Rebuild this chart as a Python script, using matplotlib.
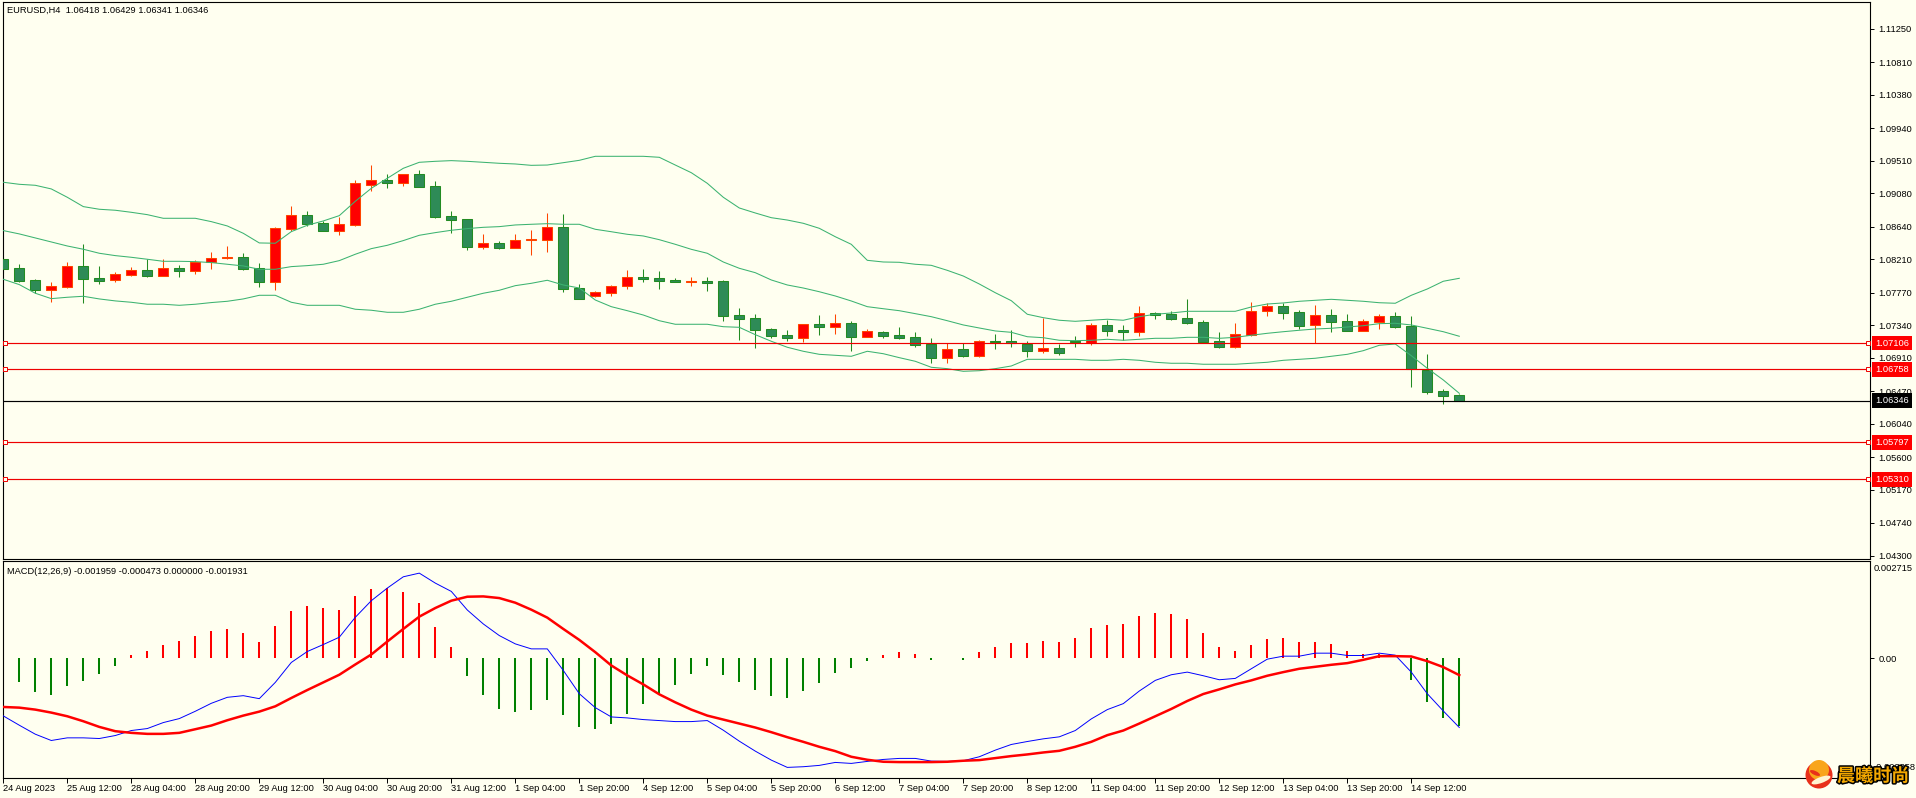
import matplotlib
matplotlib.use('Agg')
import matplotlib.pyplot as plt
import matplotlib.patheffects as pe
from matplotlib.patches import Circle, Ellipse

plt.rcParams['font.family'] = ['Liberation Sans', 'DejaVu Sans']

# EURUSD H4 candles
opens = [
    1.08211, 1.08092, 1.07934, 1.07811, 1.07850, 1.08118, 1.07960, 1.07943, 1.08009, 1.08066,
    1.07995, 1.08092, 1.08061, 1.08180, 1.08228, 1.08237, 1.08092, 1.07916, 1.08615, 1.08791,
    1.08685, 1.08589, 1.08668, 1.09195, 1.09252, 1.09221, 1.09331, 1.09173, 1.08777, 1.08738,
    1.08378, 1.08422, 1.08364, 1.08460, 1.08469, 1.08632, 1.07828, 1.07731, 1.07771, 1.07863,
    1.07973, 1.07960, 1.07938, 1.07907, 1.07920, 1.07920, 1.07472, 1.07432, 1.07288, 1.07208,
    1.07178, 1.07353, 1.07323, 1.07367, 1.07191, 1.07248, 1.07208, 1.07182, 1.07090, 1.06914,
    1.07024, 1.06940, 1.07134, 1.07130, 1.07099, 1.07007, 1.07038, 1.07134, 1.07104, 1.07341,
    1.07275, 1.07257, 1.07499, 1.07486, 1.07433, 1.07380, 1.07130, 1.07060, 1.07218, 1.07525,
    1.07591, 1.07512, 1.07341, 1.07473, 1.07393, 1.07270, 1.07389, 1.07459, 1.07328, 1.06756,
    1.06471, 1.06418]
highs = [
    1.08241, 1.08149, 1.07947, 1.07908, 1.08176, 1.08413, 1.08123, 1.08039, 1.08110, 1.08211,
    1.08211, 1.08136, 1.08202, 1.08307, 1.08386, 1.08290, 1.08158, 1.08637, 1.08914, 1.08848,
    1.08720, 1.08769, 1.09252, 1.09454, 1.09335, 1.09331, 1.09388, 1.09243, 1.08848, 1.08738,
    1.08545, 1.08452, 1.08544, 1.08597, 1.08821, 1.08807, 1.07885, 1.07793, 1.07872, 1.08069,
    1.08083, 1.08056, 1.07964, 1.07977, 1.07977, 1.07938, 1.07569, 1.07490, 1.07305, 1.07279,
    1.07353, 1.07476, 1.07490, 1.07397, 1.07292, 1.07266, 1.07318, 1.07252, 1.07173, 1.07103,
    1.07103, 1.07147, 1.07226, 1.07279, 1.07134, 1.07442, 1.07095, 1.07200, 1.07372, 1.07411,
    1.07345, 1.07596, 1.07516, 1.07530, 1.07688, 1.07411, 1.07253, 1.07372, 1.07648, 1.07635,
    1.07635, 1.07543, 1.07609, 1.07556, 1.07490, 1.07424, 1.07490, 1.07516, 1.07464, 1.06963,
    1.06502, 1.06429]
lows = [
    1.08035, 1.07912, 1.07763, 1.07648, 1.07833, 1.07640, 1.07886, 1.07912, 1.07991, 1.07978,
    1.07991, 1.07978, 1.08017, 1.08088, 1.08220, 1.08070, 1.07846, 1.07807, 1.08580, 1.08654,
    1.08589, 1.08531, 1.08650, 1.09111, 1.09151, 1.09177, 1.09168, 1.08755, 1.08558, 1.08334,
    1.08347, 1.08347, 1.08364, 1.08267, 1.08307, 1.07780, 1.07692, 1.07709, 1.07727, 1.07819,
    1.07911, 1.07819, 1.07911, 1.07859, 1.07793, 1.07397, 1.07147, 1.07042, 1.07173, 1.07134,
    1.07121, 1.07213, 1.07226, 1.07002, 1.07187, 1.07173, 1.07160, 1.07055, 1.06844, 1.06844,
    1.06923, 1.06923, 1.07028, 1.07055, 1.06923, 1.06976, 1.06950, 1.07055, 1.07082, 1.07200,
    1.07147, 1.07200, 1.07424, 1.07411, 1.07358, 1.07104, 1.07042, 1.07042, 1.07205, 1.07464,
    1.07424, 1.07292, 1.07104, 1.07253, 1.07266, 1.07266, 1.07292, 1.07306, 1.06528, 1.06436,
    1.06304, 1.06341]
closes = [
    1.08088, 1.07930, 1.07811, 1.07855, 1.08118, 1.07956, 1.07930, 1.08013, 1.08066, 1.07995,
    1.08092, 1.08061, 1.08180, 1.08224, 1.08237, 1.08088, 1.07916, 1.08619, 1.08791, 1.08681,
    1.08589, 1.08672, 1.09212, 1.09252, 1.09221, 1.09331, 1.09168, 1.08773, 1.08733, 1.08378,
    1.08422, 1.08360, 1.08460, 1.08474, 1.08632, 1.07823, 1.07692, 1.07775, 1.07854, 1.07973,
    1.07955, 1.07929, 1.07916, 1.07920, 1.07903, 1.07468, 1.07428, 1.07283, 1.07204, 1.07178,
    1.07353, 1.07323, 1.07367, 1.07191, 1.07261, 1.07204, 1.07178, 1.07085, 1.06914, 1.07024,
    1.06940, 1.07129, 1.07121, 1.07108, 1.07007, 1.07038, 1.06981, 1.07126, 1.07341, 1.07270,
    1.07257, 1.07499, 1.07481, 1.07429, 1.07376, 1.07126, 1.07060, 1.07222, 1.07525, 1.07591,
    1.07508, 1.07336, 1.07473, 1.07389, 1.07270, 1.07393, 1.07459, 1.07323, 1.06761, 1.06467,
    1.06414, 1.06346]

# Bollinger bands
bb_upper = [
    1.09226, 1.09199, 1.09186, 1.09138, 1.09028, 1.08905, 1.08870, 1.08857, 1.08830, 1.08799,
    1.08751, 1.08751, 1.08751, 1.08707, 1.08650, 1.08553, 1.08426, 1.08422, 1.08575, 1.08659,
    1.08716, 1.08786, 1.08975, 1.09146, 1.09278, 1.09410, 1.09489, 1.09502, 1.09511, 1.09502,
    1.09489, 1.09476, 1.09467, 1.09449, 1.09453, 1.09484, 1.09515, 1.09568, 1.09568, 1.09568,
    1.09568, 1.09555, 1.09453, 1.09352, 1.09212, 1.09028, 1.08887, 1.08821, 1.08759, 1.08728,
    1.08685, 1.08619, 1.08508, 1.08408, 1.08197, 1.08175, 1.08171, 1.08145, 1.08131, 1.08065,
    1.07990, 1.07885, 1.07770, 1.07665, 1.07486, 1.07441, 1.07407, 1.07393, 1.07407, 1.07420,
    1.07407, 1.07454, 1.07486, 1.07503, 1.07525, 1.07525, 1.07525, 1.07525, 1.07582, 1.07621,
    1.07635, 1.07657, 1.07670, 1.07683, 1.07670, 1.07657, 1.07638, 1.07631, 1.07736, 1.07819,
    1.07921, 1.07960]
bb_mid = [
    1.08589, 1.08545, 1.08492, 1.08439, 1.08386, 1.08343, 1.08290, 1.08259, 1.08237, 1.08211,
    1.08184, 1.08184, 1.08180, 1.08167, 1.08145, 1.08123, 1.08079, 1.08079, 1.08114, 1.08127,
    1.08145, 1.08193, 1.08277, 1.08351, 1.08395, 1.08457, 1.08527, 1.08562, 1.08593, 1.08615,
    1.08632, 1.08641, 1.08663, 1.08672, 1.08680, 1.08672, 1.08672, 1.08606, 1.08574, 1.08540,
    1.08518, 1.08469, 1.08408, 1.08342, 1.08290, 1.08175, 1.08092, 1.08034, 1.07938, 1.07872,
    1.07832, 1.07783, 1.07727, 1.07661, 1.07586, 1.07559, 1.07533, 1.07494, 1.07454, 1.07401,
    1.07345, 1.07305, 1.07266, 1.07248, 1.07190, 1.07177, 1.07143, 1.07138, 1.07143, 1.07156,
    1.07143, 1.07156, 1.07169, 1.07169, 1.07182, 1.07182, 1.07169, 1.07182, 1.07209, 1.07235,
    1.07256, 1.07275, 1.07292, 1.07301, 1.07318, 1.07335, 1.07362, 1.07367, 1.07345, 1.07301,
    1.07256, 1.07196]
bb_lower = [
    1.07947, 1.07877, 1.07763, 1.07692, 1.07710, 1.07723, 1.07688, 1.07662, 1.07644, 1.07618,
    1.07618, 1.07604, 1.07618, 1.07640, 1.07657, 1.07688, 1.07736, 1.07736, 1.07644, 1.07604,
    1.07604, 1.07604, 1.07552, 1.07539, 1.07512, 1.07512, 1.07552, 1.07618, 1.07657, 1.07710,
    1.07763, 1.07802, 1.07863, 1.07894, 1.07934, 1.07872, 1.07832, 1.07674, 1.07586, 1.07533,
    1.07476, 1.07401, 1.07354, 1.07354, 1.07354, 1.07322, 1.07314, 1.07217, 1.07130, 1.07051,
    1.06998, 1.06958, 1.06945, 1.06932, 1.06998, 1.06966, 1.06914, 1.06866, 1.06787, 1.06769,
    1.06734, 1.06742, 1.06769, 1.06804, 1.06892, 1.06892, 1.06892, 1.06892, 1.06879, 1.06879,
    1.06892, 1.06879, 1.06853, 1.06840, 1.06840, 1.06827, 1.06827, 1.06827, 1.06840, 1.06853,
    1.06879, 1.06892, 1.06906, 1.06932, 1.06958, 1.07006, 1.07077, 1.07094, 1.06940, 1.06774,
    1.06620, 1.06444]

# MACD panel
macd_hist = [
    -0.000339, -0.000679, -0.000962, -0.001047, -0.000792, -0.000651, -0.000453, -0.000226, 0.000085, 0.000226,
    0.000396, 0.000509, 0.000651, 0.000792, 0.000849, 0.000736, 0.000481, 0.000934, 0.001358, 0.001499,
    0.001443, 0.001386, 0.001782, 0.001980, 0.001999, 0.001895, 0.001584, 0.000905, 0.000339, -0.000509,
    -0.001047, -0.001443, -0.001528, -0.001471, -0.001188, -0.001613, -0.001952, -0.002009, -0.001867, -0.001584,
    -0.001301, -0.001047, -0.000764, -0.000453, -0.000226, -0.000481, -0.000679, -0.000905, -0.001075, -0.001132,
    -0.000934, -0.000707, -0.000424, -0.000283, -0.000085, 0.000085, 0.000170, 0.000141, -0.000057, 0.000009,
    -0.000057, 0.000170, 0.000339, 0.000453, 0.000453, 0.000509, 0.000481, 0.000594, 0.000877, 0.000962,
    0.000990, 0.001216, 0.001301, 0.001273, 0.001132, 0.000736, 0.000339, 0.000226, 0.000396, 0.000566,
    0.000594, 0.000481, 0.000481, 0.000424, 0.000226, 0.000141, 0.000141, 0.000009, -0.000622, -0.001245,
    -0.001697, -0.001931]
macd_main = [
    -0.001631, -0.001895, -0.002150, -0.002329, -0.002254, -0.002254, -0.002273, -0.002188, -0.002046, -0.001990,
    -0.001820, -0.001707, -0.001499, -0.001273, -0.001103, -0.001056, -0.001141, -0.000679, -0.000113, 0.000198,
    0.000396, 0.000604, 0.001169, 0.001641, 0.001999, 0.002320, 0.002424, 0.002141, 0.001905, 0.001377,
    0.000981, 0.000651, 0.000415, 0.000273, 0.000273, -0.000339, -0.001000, -0.001396, -0.001660, -0.001688,
    -0.001735, -0.001763, -0.001792, -0.001792, -0.001763, -0.002037, -0.002348, -0.002631, -0.002886, -0.003093,
    -0.003074, -0.003036, -0.002952, -0.002980, -0.002923, -0.002867, -0.002838, -0.002838, -0.002914, -0.002923,
    -0.002904, -0.002791, -0.002603, -0.002442, -0.002358, -0.002282, -0.002225, -0.002046, -0.001716, -0.001452,
    -0.001282, -0.000924, -0.000622, -0.000462, -0.000387, -0.000490, -0.000604, -0.000566, -0.000292, -0.000019,
    0.000066, 0.000066, 0.000151, 0.000151, 0.000085, 0.000085, 0.000151, 0.000094, -0.000387, -0.001000,
    -0.001490, -0.001959]
macd_signal = [
    -0.001377, -0.001396, -0.001452, -0.001537, -0.001641, -0.001782, -0.001943, -0.002065, -0.002112, -0.002141,
    -0.002141, -0.002112, -0.002009, -0.001905, -0.001754, -0.001622, -0.001509, -0.001358, -0.001122, -0.000896,
    -0.000679, -0.000462, -0.000170, 0.000113, 0.000481, 0.000839, 0.001188, 0.001433, 0.001641, 0.001754,
    0.001763, 0.001716, 0.001584, 0.001386, 0.001160, 0.000839, 0.000528, 0.000179, -0.000198, -0.000481,
    -0.000736, -0.001018, -0.001245, -0.001452, -0.001622, -0.001735, -0.001848, -0.001961, -0.002093, -0.002235,
    -0.002367, -0.002508, -0.002631, -0.002791, -0.002876, -0.002933, -0.002942, -0.002942, -0.002942, -0.002933,
    -0.002904, -0.002886, -0.002829, -0.002772, -0.002725, -0.002669, -0.002622, -0.002508, -0.002367, -0.002178,
    -0.002046, -0.001848, -0.001641, -0.001433, -0.001207, -0.001009, -0.000877, -0.000736, -0.000622, -0.000490,
    -0.000387, -0.000292, -0.000236, -0.000179, -0.000132, -0.000038, 0.000066, 0.000066, 0.000057, -0.000075,
    -0.000245, -0.000473]

levels = [1.07106, 1.06758, 1.05797, 1.05310]
last_price = 1.06346
price_ticks = [1.11250, 1.10810, 1.10380, 1.09940, 1.09510, 1.09080, 1.08640, 1.08210, 1.07770,
               1.07340, 1.06910, 1.06470, 1.06040, 1.05600, 1.05170, 1.04740, 1.04300]
time_labels = ['24 Aug 2023', '25 Aug 12:00', '28 Aug 04:00', '28 Aug 20:00', '29 Aug 12:00', '30 Aug 04:00',
               '30 Aug 20:00', '31 Aug 12:00', '1 Sep 04:00', '1 Sep 20:00', '4 Sep 12:00', '5 Sep 04:00',
               '5 Sep 20:00', '6 Sep 12:00', '7 Sep 04:00', '7 Sep 20:00', '8 Sep 12:00', '11 Sep 04:00',
               '11 Sep 20:00', '12 Sep 12:00', '13 Sep 04:00', '13 Sep 20:00', '14 Sep 12:00']

BG = '#FFFFF0'
W, H = 1916, 798
FS = 6.7


def px_axes(left, top, right, bottom):
    return [left / W, 1 - bottom / H, (right - left) / W, (bottom - top) / H]


fig = plt.figure(figsize=(W / 100, H / 100), dpi=100, facecolor=BG)
ax = fig.add_axes(px_axes(2.5, 2, 1870, 559.3), facecolor=BG)
ax2 = fig.add_axes(px_axes(2.5, 561.3, 1870, 777.5), facecolor=BG, sharex=ax)

n = len(opens)
bars = range(n)

# candles
for i in bars:
    up = closes[i] >= opens[i]
    edge = '#FF4500' if up else '#228B22'
    fill = '#FF0000' if up else '#2E8B57'
    ax.vlines(i, lows[i], highs[i], color=edge, lw=0.75, zorder=2)
    ax.bar(i, abs(closes[i] - opens[i]), bottom=min(opens[i], closes[i]), width=0.63,
           color=fill, edgecolor=edge, linewidth=0.75, zorder=3)

for band in (bb_upper, bb_mid, bb_lower):
    ax.plot(bars, band, color='#3CB371', lw=0.75, zorder=4)

# horizontal levels with their handles and price tags
trans = ax.get_yaxis_transform()
for lvl in levels:
    ax.axhline(lvl, color='#EE0000', lw=0.85, zorder=5)
    ax.plot([0.0013, 0.99875], [lvl, lvl], 's', transform=trans, ms=3, mfc=BG, mec='#EE0000', mew=0.7, zorder=6)
    ax.annotate(f'{lvl:.5f}', xy=(1, lvl), xycoords=trans, xytext=(3.8, 0), textcoords='offset points',
                va='center', ha='left', color='white', fontsize=FS, annotation_clip=False, zorder=8,
                bbox=dict(boxstyle='square,pad=0.3', fc='#FF0000', ec='none'))
ax.axhline(last_price, color='black', lw=0.85, zorder=5)
ax.annotate(f'{last_price:.5f}', xy=(1, last_price), xycoords=trans, xytext=(3.8, 0), textcoords='offset points',
            va='center', ha='left', color='white', fontsize=FS, annotation_clip=False, zorder=8,
            bbox=dict(boxstyle='square,pad=0.3', fc='black', ec='none'))

ax.set_xlim(-0.05, 116.67)
ax.set_ylim(1.04256, 1.11602)
ax.yaxis.tick_right()
ax.set_yticks(price_ticks)
ax.set_yticklabels([f'{t:.5f}' for t in price_ticks])
ax.tick_params(axis='y', length=3, width=0.7, pad=3, labelsize=FS)
ax.tick_params(axis='x', bottom=False, labelbottom=False)
ax.text(0.0025, 0.9845, 'EURUSD,H4  1.06418 1.06429 1.06341 1.06346', transform=ax.transAxes,
        fontsize=FS, va='center', ha='left')

# MACD
for i in bars:
    ax2.vlines(i, 0, macd_hist[i], color='#FF0000' if macd_hist[i] > 0 else '#008000', lw=1.45, zorder=2)
ax2.plot(bars, macd_main, color='#0000FF', lw=0.7, zorder=3)
ax2.plot(bars, macd_signal, color='#FF0000', lw=1.8, zorder=4)

ax2.set_ylim(-0.00338, 0.00276)
ax2.yaxis.tick_right()
ax2.set_yticks([0.0])
ax2.set_yticklabels(['0.00'])
ax2.tick_params(axis='y', length=3, width=0.7, pad=3, labelsize=FS)
ax2.text(1.0021, 0.966, '0.002715', transform=ax2.transAxes, fontsize=FS, va='center', ha='left')
ax2.text(1.0021, 0.045, '-0.003358', transform=ax2.transAxes, fontsize=FS, va='center', ha='left')
ax2.text(0.0025, 0.953, 'MACD(12,26,9) -0.001959 -0.000473 0.000000 -0.001931', transform=ax2.transAxes,
         fontsize=FS, va='center', ha='left')

ax2.set_xticks(list(range(0, n, 4)))
ax2.set_xticklabels(time_labels, ha='left')
ax2.tick_params(axis='x', length=3.5, width=0.7, pad=1.5, labelsize=FS)
for a in (ax, ax2):
    for s in a.spines.values():
        s.set_linewidth(0.8)

# watermark logo in the corner
logo = fig.add_axes([0, 0, 1, 1], facecolor='none', zorder=20)
logo.set_xlim(0, W)
logo.set_ylim(H, 0)
logo.axis('off')
logo.add_patch(Circle((1819, 775), 13.5, fc='#E8301A', ec='none'))
logo.add_patch(Circle((1819, 770), 10, fc='#F9A51A', ec='none'))
logo.add_patch(Ellipse((1821, 780), 20, 6, angle=-20, fc='#FFF4D0', ec='none'))
logo.add_patch(Ellipse((1815, 773), 11, 4, angle=25, fc='#E8301A', ec='none'))
logo.text(1873, 776, '晨曦时尚', fontsize=13, family=['Noto Sans CJK SC', 'DejaVu Sans'], weight='bold',
          color='#F5A800', ha='center', va='center',
          path_effects=[pe.withStroke(linewidth=2.2, foreground='black')])

fig.savefig('out.png', dpi=100, facecolor=BG)
